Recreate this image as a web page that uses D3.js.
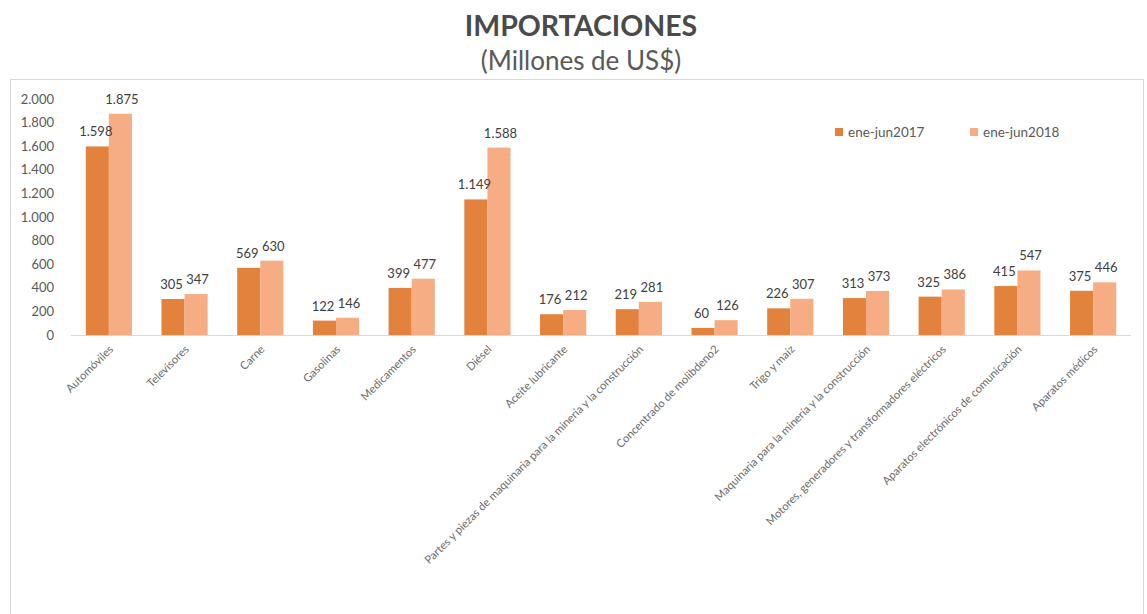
<!DOCTYPE html>
<html>
<head>
<meta charset="utf-8">
<script src="https://cdn.jsdelivr.net/npm/d3@7"></script>
<style>
  body { margin: 0; background: #fff; }
  svg text { font-family: Lato, "Open Sans", sans-serif; }
</style>
</head>
<body>
<div id="chart"></div>
<script>
// values (millones de US$)
const categories = ["Automóviles", "Televisores", "Carne", "Gasolinas", "Medicamentos", "Diésel",
  "Aceite lubricante", "Partes y piezas de maquinaria para la minería y la construcción",
  "Concentrado de molibdeno2", "Trigo y maíz", "Maquinaria para la minería y la construcción",
  "Motores, generadores y transformadores eléctricos", "Aparatos electrónicos de comunicación", "Aparatos médicos"]
const seriesNames = ["ene-jun2017", "ene-jun2018"]
const values2017 = [1598, 305, 569, 122, 399, 1149, 176, 219, 60, 226, 313, 325, 415, 375]
const values2018 = [1875, 347, 630, 146, 477, 1588, 212, 281, 126, 307, 373, 386, 547, 446]
const yTicks = [0, 200, 400, 600, 800, 1000, 1200, 1400, 1600, 1800, 2000]

const W = 1147, H = 614
const plot = {left: 71, right: 1131, top: 99, bottom: 335}
const colors = ["#E2823C", "#F6AD84"]
const fmt = d3.formatLocale({decimal: ",", thousands: ".", grouping: [3], currency: ["", ""]}).format(",d")

const svg = d3.select("#chart").append("svg").attr("width", W).attr("height", H)

// chart area frame
svg.append("rect").attr("x", 10.5).attr("y", 79.5).attr("width", 1133).attr("height", 600)
  .attr("fill", "none").attr("stroke", "#d9d9d9")

// title
svg.append("text").attr("x", 581).attr("y", 36).attr("text-anchor", "middle")
  .attr("font-size", 28.5).attr("font-weight", "bold").attr("fill", "#4a4a4a").text("IMPORTACIONES")
svg.append("text").attr("x", 581).attr("y", 70).attr("text-anchor", "middle")
  .attr("font-size", 26).attr("fill", "#595959").text("(Millones de US$)")

var x = d3.scaleBand().domain(categories).range([plot.left, plot.right]).paddingInner(0.39).paddingOuter(0.195)
var xs = d3.scaleBand().domain(seriesNames).range([0, x.bandwidth()])
var y = d3.scaleLinear().domain([0, 2000]).range([plot.bottom, plot.top])

// y axis labels (no axis line)
var yAxis = svg.append("g").attr("transform", "translate(" + (plot.left - 14) + ",0)")
  .call(d3.axisLeft(y).tickValues(yTicks).tickFormat(fmt).tickSize(0))
yAxis.select(".domain").remove()
yAxis.selectAll("text").attr("font-size", 13).attr("fill", "#595959").attr("font-family", "Lato, sans-serif")

// bars
var rows = categories.map((c, i) => ({cat: c, vals: [values2017[i], values2018[i]]}))
var groups = svg.selectAll("g.grp").data(rows).enter().append("g").attr("class", "grp")
  .attr("transform", d => "translate(" + x(d.cat) + ",0)")
groups.selectAll("rect").data(d => d.vals.map((v, k) => ({s: seriesNames[k], v: v, k: k}))).enter().append("rect")
  .attr("x", d => xs(d.s)).attr("width", xs.bandwidth())
  .attr("y", d => y(d.v)).attr("height", d => y(0) - y(d.v))
  .attr("fill", d => colors[d.k])
groups.selectAll("text").data(d => d.vals.map((v, k) => ({s: seriesNames[k], v: v, k: k}))).enter().append("text")
  .attr("x", d => xs(d.s) + xs.bandwidth() / 2 + (d.k ? 1.5 : -1.5)).attr("y", d => y(d.v) - 10)
  .attr("text-anchor", "middle").attr("font-size", 13).attr("fill", "#404040").text(d => fmt(d.v))

// x axis baseline
svg.append("line").attr("x1", plot.left).attr("x2", plot.right).attr("y1", y(0) + 0.5).attr("y2", y(0) + 0.5)
  .attr("stroke", "#cfdbe6")

// category labels, rotated
svg.selectAll("text.cat").data(categories).enter().append("text").attr("class", "cat")
  .attr("transform", d => "translate(" + (x(d) + x.bandwidth() / 2 + 5) + "," + (y(0) + 15) + ") rotate(-45)")
  .attr("text-anchor", "end").attr("font-size", 11.2).attr("fill", "#6b6b6b").text(d => d)

// legend
var legend = svg.selectAll("g.leg").data(seriesNames).enter().append("g").attr("class", "leg")
  .attr("transform", (d, i) => "translate(" + (835 + i * 135) + ",128)")
legend.append("rect").attr("width", 8).attr("height", 8).attr("fill", (d, i) => colors[i])
legend.append("text").attr("x", 13).attr("y", 8.5).attr("font-size", 13.5).attr("fill", "#595959").text(d => d)
</script>
</body>
</html>
